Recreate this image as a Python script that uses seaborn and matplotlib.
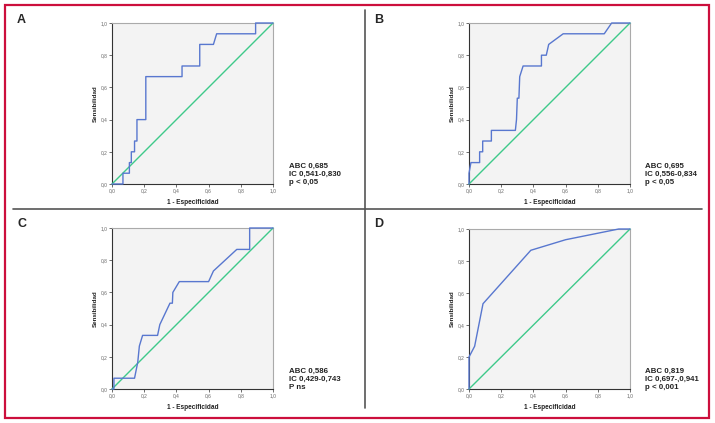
import matplotlib
matplotlib.use("Agg")
import matplotlib.pyplot as plt
import seaborn as sns
from matplotlib.lines import Line2D
from matplotlib.patches import Rectangle

# ROC curves (1 - especificidad, sensibilidad)
a_fpr = [0, 0.068, 0.068, 0.108, 0.108, 0.12, 0.12, 0.14, 0.14, 0.155, 0.155, 0.21, 0.21,
         0.435, 0.435, 0.545, 0.545, 0.63, 0.65, 0.892, 0.892, 1.0]
a_tpr = [0, 0, 0.067, 0.067, 0.133, 0.133, 0.2, 0.2, 0.267, 0.267, 0.4, 0.4, 0.667,
         0.667, 0.733, 0.733, 0.867, 0.867, 0.933, 0.933, 1.0, 1.0]

b_fpr = [0, 0, 0.012, 0.066, 0.066, 0.085, 0.085, 0.139, 0.139, 0.288, 0.295, 0.3, 0.31,
         0.315, 0.336, 0.45, 0.45, 0.48, 0.495, 0.585, 0.84, 0.886, 1.0]
b_tpr = [0, 0.067, 0.133, 0.133, 0.2, 0.2, 0.267, 0.267, 0.333, 0.333, 0.4, 0.533, 0.533,
         0.667, 0.733, 0.733, 0.8, 0.8, 0.867, 0.933, 0.933, 1.0, 1.0]

c_fpr = [0, 0.012, 0.012, 0.14, 0.16, 0.17, 0.19, 0.283, 0.297, 0.36, 0.375, 0.378, 0.418,
         0.6, 0.63, 0.775, 0.855, 0.855, 1.0]
c_tpr = [0, 0, 0.067, 0.067, 0.167, 0.267, 0.333, 0.333, 0.4, 0.533, 0.533, 0.6, 0.667,
         0.667, 0.733, 0.867, 0.867, 1.0, 1.0]

d_fpr = [0, 0, 0.035, 0.087, 0.384, 0.6, 0.93, 1.0]
d_tpr = [0, 0.2, 0.267, 0.533, 0.867, 0.933, 1.0, 1.0]

diag = [0, 1]
ticks = [0, 0.2, 0.4, 0.6, 0.8, 1.0]
tick_labels = ["0,0", "0,2", "0,4", "0,6", "0,8", "1,0"]

panels = ["A", "B", "C", "D"]
notes = [
    "ABC 0,685\nIC 0,541-0,830\np < 0,05",
    "ABC 0,695\nIC 0,556-0,834\np < 0,05",
    "ABC 0,586\nIC 0,429-0,743\nP ns",
    "ABC 0,819\nIC 0,697-,0,941\np < 0,001",
]
curves = [(a_fpr, a_tpr), (b_fpr, b_tpr), (c_fpr, c_tpr), (d_fpr, d_tpr)]

sns.set_theme(style="white")
plt.rcParams["font.family"] = ["Liberation Sans", "DejaVu Sans"]

W, H = 715, 423
fig = plt.figure(figsize=(W / 100, H / 100), dpi=100)

# axes boxes in pixels: left, top, right, bottom
boxes = [(112, 23, 273, 184), (469, 23, 630, 184), (112, 228, 273, 389), (469, 229, 630, 389)]
letter_pos = [(17, 20), (374, 20), (17, 224), (374, 224)]
note_pos = [(289, 163), (645, 163), (289, 368), (645, 368)]

blue = "#5877cf"
green = "#3ec98a"

for i, (l, t, r, b) in enumerate(boxes):
    ax = fig.add_axes([l / W, 1 - b / H, (r - l) / W, (b - t) / H])
    ax.set_facecolor("#f3f3f3")
    fpr, tpr = curves[i]
    sns.lineplot(x=diag, y=diag, ax=ax, color=green, linewidth=1.0, estimator=None, sort=False)
    sns.lineplot(x=fpr, y=tpr, ax=ax, color=blue, linewidth=1.0, estimator=None, sort=False)
    for ln in ax.lines:
        ln.set_clip_on(False)
        ln.set_zorder(5)
    ax.set_xlim(0, 1)
    ax.set_ylim(0, 1)
    ax.set_xticks(ticks)
    ax.set_yticks(ticks)
    ax.set_xticklabels(tick_labels, fontsize=3.5, color="#666666")
    ax.set_yticklabels(tick_labels, fontsize=3.5, color="#666666")
    ax.tick_params(axis="both", which="both", length=2, width=0.5, pad=1,
                   bottom=True, left=True, color="#333333")
    for side in ["top", "right"]:
        ax.spines[side].set_color("#aaaaaa")
        ax.spines[side].set_linewidth(0.8)
    for side in ["left", "bottom"]:
        ax.spines[side].set_color("#333333")
        ax.spines[side].set_linewidth(0.8)
    ax.set_xlabel("1 - Especificidad", fontsize=4.7, fontweight="bold", labelpad=4, color="#222222")
    ax.set_ylabel("Sensibilidad", fontsize=4.5, fontweight="bold", labelpad=2, color="#222222")

    lx, ly = letter_pos[i]
    fig.text(lx / W, 1 - ly / H, panels[i], fontsize=9, fontweight="bold", va="center", ha="left")
    nx, ny = note_pos[i]
    fig.text(nx / W, 1 - ny / H, notes[i], fontsize=5.7, fontweight="bold", va="top", ha="left",
             linespacing=1.2, color="#222222")

# dividers
fig.add_artist(Line2D([13 / W, 702 / W], [1 - 209 / H, 1 - 209 / H], color="#555555", linewidth=1.2))
fig.add_artist(Line2D([365 / W, 365 / W], [1 - 10 / H, 1 - 408 / H], color="#555555", linewidth=1.2))

# red frame
fig.add_artist(Rectangle((5 / W, 1 - 418 / H), 704 / W, 413 / H, fill=False,
                         edgecolor="#cc0f3c", linewidth=1.6, transform=fig.transFigure))

fig.savefig("out.png", dpi=100, facecolor="white")
